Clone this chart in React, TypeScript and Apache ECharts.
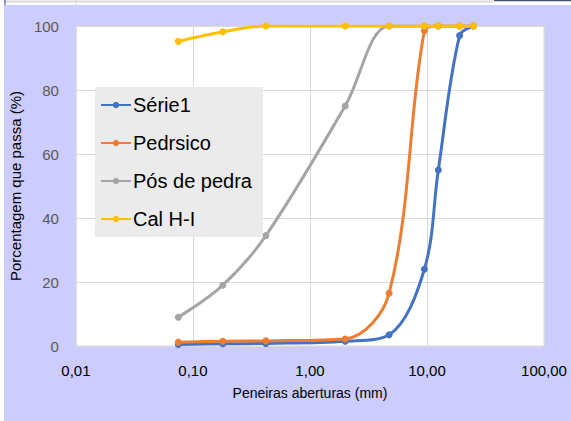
import React, { useEffect, useRef } from "react";
import * as echarts from "echarts";

const sizes = [0.075, 0.18, 0.42, 2.0, 4.75, 9.5, 12.5, 19, 25];
const serie1 = [0.5, 0.7, 0.8, 1.5, 3.5, 24, 55, 97, 100];
const pedrsico = [1.2, 1.5, 1.6, 2.2, 16.5, 98.5, 100, 100, 100];
const posDePedra = [9, 19, 34.5, 75, 100, 100, 100, 100, 100];
const calHI = [95.2, 98.2, 100, 100, 100, 100, 100, 100, 100];

const seriesNames = ["Série1", "Pedrsico", "Pós de pedra", "Cal H-I"];
const seriesColors = ["#4472c4", "#ed7d31", "#a5a5a5", "#ffc000"];
const seriesValues = [serie1, pedrsico, posDePedra, calHI];

const FONT = "Liberation Sans";

export default function App() {
  const ref = useRef<HTMLDivElement>(null);
  useEffect(() => {
    if (!ref.current) return;
    const chart = echarts.init(ref.current, null, { renderer: "svg" });
    chart.setOption({
      animation: false,
      backgroundColor: "#ffffff",
      textStyle: { fontFamily: FONT },
      graphic: [
        { type: "rect", z: -10, silent: true, shape: { x: 4, y: 5, width: 567, height: 416 }, style: { fill: "#ccccff" } },
        { type: "line", silent: true, shape: { x1: 4, y1: 1.5, x2: 493, y2: 1.5 }, style: { stroke: "#d9d9d9", lineWidth: 2 } },
        { type: "line", silent: true, shape: { x1: 76, y1: 0, x2: 76, y2: 5 }, style: { stroke: "#d9d9d9", lineWidth: 1 } },
        { type: "line", silent: true, shape: { x1: 5, y1: 0, x2: 5, y2: 5 }, style: { stroke: "#2f3fbf", lineWidth: 1 } },
        { type: "line", silent: true, shape: { x1: 494, y1: 0.5, x2: 571, y2: 0.5 }, style: { stroke: "#44546a", lineWidth: 1.5 } },
      ],
      grid: {
        left: 67,
        top: 26,
        right: 27,
        bottom: 75,
        show: true,
        backgroundColor: "#ffffff",
        borderColor: "#d9d9d9",
        borderWidth: 1,
      },
      legend: {
        orient: "vertical",
        left: 95,
        top: 87,
        backgroundColor: "#ebebeb",
        padding: [8, 11, 8, 5],
        itemWidth: 30,
        itemHeight: 8,
        itemGap: 18,
        data: seriesNames,
        textStyle: { fontFamily: FONT, fontSize: 20, color: "#000000", padding: [0, 0, 0, -3] },
      },
      xAxis: {
        type: "log",
        logBase: 10,
        min: 0.01,
        max: 100,
        name: "Peneiras aberturas (mm)",
        nameLocation: "middle",
        nameGap: 40,
        nameTextStyle: { fontFamily: FONT, fontSize: 14, color: "#000000" },
        axisLine: { show: true, lineStyle: { color: "#d9d9d9" } },
        axisTick: { show: false },
        axisLabel: {
          fontFamily: FONT,
          fontSize: 15,
          color: "#000000",
          margin: 17,
          formatter: (v: number) => v.toFixed(2).replace(".", ","),
        },
        splitLine: { show: true, lineStyle: { color: "#d9d9d9", width: 1 } },
        minorTick: { show: false },
      },
      yAxis: {
        type: "value",
        min: 0,
        max: 100,
        interval: 20,
        name: "Porcentagem que passa (%)",
        nameLocation: "middle",
        nameGap: 44,
        nameTextStyle: { fontFamily: FONT, fontSize: 15, color: "#000000" },
        axisLine: { show: false },
        axisTick: { show: false },
        axisLabel: { fontFamily: FONT, fontSize: 15, color: "#595959", margin: 17 },
        splitLine: { show: true, lineStyle: { color: "#d9d9d9", width: 1 } },
      },
      series: seriesNames.map((name, i) => ({
        name,
        type: "line",
        smooth: 0.35,
        symbol: "circle",
        symbolSize: 7,
        color: seriesColors[i],
        lineStyle: { width: 3, color: seriesColors[i] },
        itemStyle: { color: seriesColors[i] },
        data: sizes.map((s, j) => [s, seriesValues[i][j]]),
      })),
    });
    return () => chart.dispose();
  }, []);
  return <div ref={ref} style={{ position: "absolute", left: 0, top: 0, width: 571, height: 421 }} />;
}
